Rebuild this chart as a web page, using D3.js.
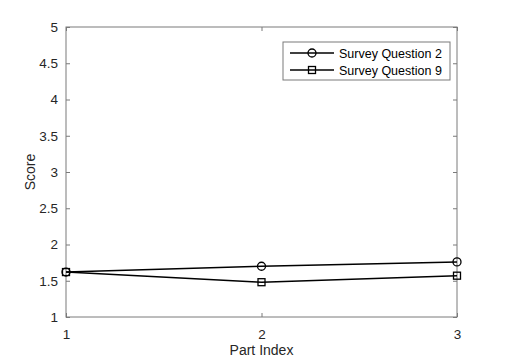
<!DOCTYPE html>
<html>
<head>
<meta charset="utf-8">
<script src="https://cdn.jsdelivr.net/npm/d3@7"></script>
<style>
  body { margin: 0; background: #fff; }
  text { font-family: "Liberation Sans", Arial, sans-serif; }
</style>
</head>
<body>
<svg width="506" height="360"></svg>
<script>
const parts = [1, 2, 3]
const question2 = [1.62, 1.70, 1.76]
const question9 = [1.62, 1.48, 1.57]
const yTicks = [1, 1.5, 2, 2.5, 3, 3.5, 4, 4.5, 5]
const seriesNames = ["Survey Question 2", "Survey Question 9"]

const svg = d3.select("svg")
const margin = {top: 27, right: 49, bottom: 43, left: 66}
const width = +svg.attr("width")
const height = +svg.attr("height")
const innerWidth = width - margin.left - margin.right
const innerHeight = height - margin.top - margin.bottom

const axisColor = "#7a7a7a"

const x = d3.scaleLinear().domain([1, 3]).range([0, innerWidth])
const y = d3.scaleLinear().domain([1, 5]).range([innerHeight, 0])

const g = svg.append("g")
    .attr("transform", `translate(${margin.left},${margin.top})`)

// axes, ticks pointing inward like matlab
const styleAxis = sel => {
    sel.select(".domain").remove()
    sel.selectAll("line").attr("stroke", axisColor)
    sel.selectAll("text").attr("fill", "#262626").style("font-size", "13.5px")
}

g.append("g")
    .attr("transform", `translate(0,${innerHeight})`)
    .call(d3.axisBottom(x).tickValues(parts).tickSizeInner(-4).tickPadding(12).tickFormat(d3.format("d")))
    .call(styleAxis)

// mirrored ticks on top and right (box on)
const topAxis = g.append("g")
    .call(d3.axisTop(x).tickValues(parts).tickSizeInner(-4))
    .call(styleAxis)
topAxis.selectAll("text").remove()

g.append("g")
    .call(d3.axisLeft(y).tickValues(yTicks).tickSizeInner(-4).tickPadding(8).tickFormat(d => d))
    .call(styleAxis)

const rightAxis = g.append("g")
    .attr("transform", `translate(${innerWidth},0)`)
    .call(d3.axisRight(y).tickValues(yTicks).tickSizeInner(-4))
    .call(styleAxis)
rightAxis.selectAll("text").remove()

g.append("rect")
    .attr("width", innerWidth)
    .attr("height", innerHeight)
    .attr("fill", "none")
    .attr("stroke", axisColor)
    .attr("stroke-width", 1)

// lines
const line = d3.line().x((d, i) => x(parts[i])).y(d => y(d))

g.append("path").datum(question2)
    .attr("d", line).attr("fill", "none").attr("stroke", "#000").attr("stroke-width", 1.5)
g.append("path").datum(question9)
    .attr("d", line).attr("fill", "none").attr("stroke", "#000").attr("stroke-width", 1.5)

g.selectAll(".m2").data(question2).enter().append("circle")
    .attr("cx", (d, i) => x(parts[i])).attr("cy", d => y(d)).attr("r", 4)
    .attr("fill", "none").attr("stroke", "#000").attr("stroke-width", 1.3)

g.selectAll(".m9").data(question9).enter().append("rect")
    .attr("x", (d, i) => x(parts[i]) - 3.5).attr("y", d => y(d) - 3.5)
    .attr("width", 7).attr("height", 7)
    .attr("fill", "none").attr("stroke", "#000").attr("stroke-width", 1.3)

// labels
svg.append("text")
    .attr("x", margin.left + innerWidth / 2).attr("y", 355)
    .attr("text-anchor", "middle").attr("fill", "#262626").style("font-size", "14px")
    .text("Part Index")

svg.append("text")
    .attr("transform", `translate(35,${margin.top + innerHeight / 2}) rotate(-90)`)
    .attr("text-anchor", "middle").attr("fill", "#262626").style("font-size", "14px")
    .text("Score")

// legend
const legend = svg.append("g").attr("transform", "translate(283,42)")
legend.append("rect")
    .attr("width", 167).attr("height", 38)
    .attr("fill", "#fff").attr("stroke", axisColor)

seriesNames.forEach((name, i) => {
    const ly = 11 + i * 17
    legend.append("line")
        .attr("x1", 7).attr("x2", 51).attr("y1", ly).attr("y2", ly)
        .attr("stroke", "#000").attr("stroke-width", 1.5)
    if (i === 0) {
        legend.append("circle").attr("cx", 29).attr("cy", ly).attr("r", 4)
            .attr("fill", "none").attr("stroke", "#000").attr("stroke-width", 1.3)
    } else {
        legend.append("rect").attr("x", 25.5).attr("y", ly - 3.5).attr("width", 7).attr("height", 7)
            .attr("fill", "none").attr("stroke", "#000").attr("stroke-width", 1.3)
    }
    legend.append("text")
        .attr("x", 56).attr("y", ly + 4.5)
        .attr("fill", "#000").style("font-size", "12.5px")
        .text(name)
})
</script>
</body>
</html>
